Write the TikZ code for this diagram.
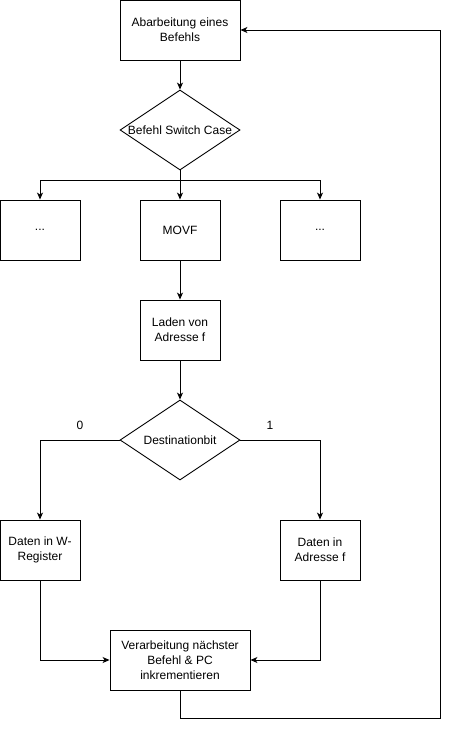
\documentclass[tikz,border=0pt]{standalone}
\usepackage{fontspec}
\setmainfont{Liberation Sans}
\usetikzlibrary{shapes.geometric,arrows.meta}
\begin{document}
\begin{tikzpicture}[x=1pt,y=-1pt,
  box/.style={draw,line width=0.9pt,minimum width=80pt,minimum height=60pt,align=center,inner sep=2pt,font=\fontsize{12}{15}\selectfont},
  dia/.style={draw,line width=0.9pt,diamond,minimum width=120pt,minimum height=80pt,inner sep=0pt,aspect=1.5,font=\fontsize{12}{15}\selectfont},
  conn/.style={line width=0.9pt,-{Stealth[length=7pt,width=6pt,inset=2pt]}},
  line/.style={line width=0.9pt},
  lbl/.style={font=\fontsize{12}{15}\selectfont}]
\useasboundingbox (0,0) rectangle (450,730);
\node[box,minimum width=120pt] (a) at (180,30) {Abarbeitung eines\\Befehls};
\node[dia] (s) at (180,130) {Befehl Switch Case};
\node[box] (l) at (40,230) {...};
\node[box] (m) at (180,230) {MOVF};
\node[box] (r) at (320,230) {...};
\node[box] (ld) at (180,330) {Laden von\\Adresse f};
\node[dia] (d) at (180,440) {Destinationbit};
\node[box] (w) at (40,550) {Daten in W-\\Register};
\node[box] (f) at (320,550) {Daten in\\Adresse f};
\node[box,minimum width=140pt] (v) at (180,660) {Verarbeitung nächster\\Befehl \& PC\\inkrementieren};
\node[lbl] (n0) at (80,425) {0};
\node[lbl] (n1) at (270,425) {1};
\coordinate (br) at (180,180);
\coordinate (bl) at (40,180);
\coordinate (brr) at (320,180);
\draw[conn] (a) -- (s);
\draw[line] (s.south) -- (br);
\draw[conn] (br) -- (bl) -- (l);
\draw[conn] (br) -- (m);
\draw[conn] (br) -- (brr) -- (r);
\draw[conn] (m) -- (ld);
\draw[conn] (ld) -- (d);
\draw[conn] (d.west) -| (w);
\draw[conn] (d.east) -| (f);
\draw[conn] (w.south) |- (v.west);
\draw[conn] (f.south) |- (v.east);
\coordinate (c1) at (180,718);
\coordinate (c2) at (440,718);
\coordinate (c3) at (440,30);
\draw[conn] (v.south) -- (c1) -- (c2) -- (c3) -- (a.east);
\end{tikzpicture}
\end{document}
